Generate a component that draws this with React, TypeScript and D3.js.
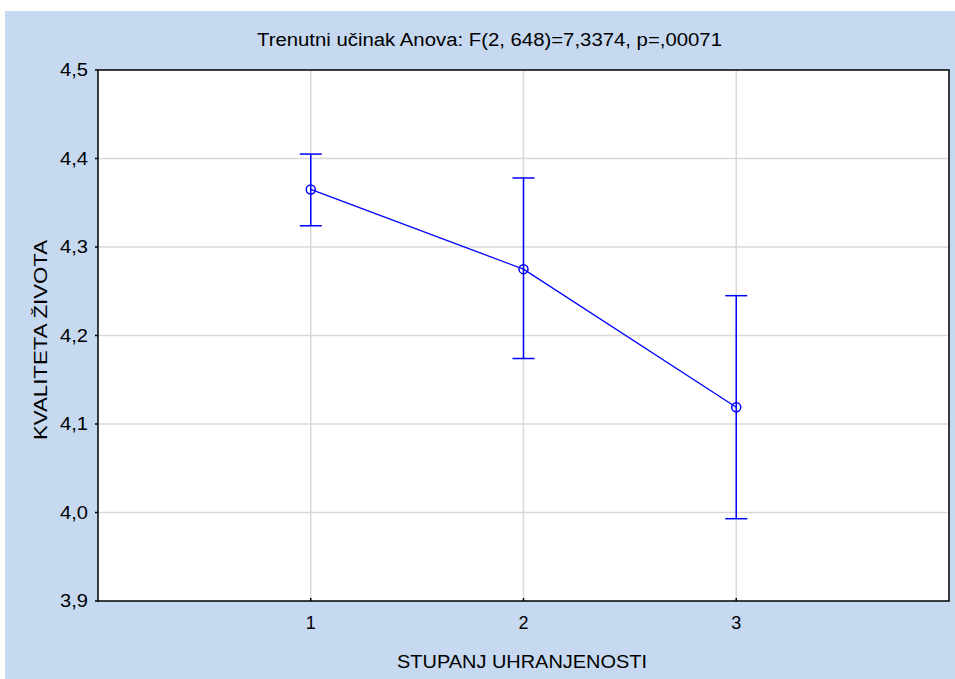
import * as d3 from "d3";

const groups = [1, 2, 3];
const means = [4.365, 4.275, 4.119];
const upper = [4.405, 4.378, 4.245];
const lower = [4.324, 4.174, 3.993];
const yTicks = [3.9, 4.0, 4.1, 4.2, 4.3, 4.4, 4.5];
const xTicks = [1, 2, 3];

const W = 955;
const H = 679;
const PLOT = { left: 98, right: 949, top: 70, bottom: 601 };
const FONT = "'Liberation Sans', Arial, sans-serif";
const BLUE = "#0000ff";

export default function App() {
  const x = d3.scaleLinear().domain([0, 4]).range([PLOT.left, PLOT.right]);
  const y = d3.scaleLinear().domain([3.9, 4.5]).range([PLOT.bottom, PLOT.top]);
  const fmt = (v: number) => v.toFixed(1).replace(".", ",");

  const line = d3
    .line<number>()
    .x((_, i) => x(groups[i]))
    .y((d) => y(d));

  return (
    <svg
      width={W}
      height={H}
      style={{ position: "absolute", left: 0, top: 0 }}
      fontFamily={FONT}
    >
      <rect x={5} y={11} width={W - 5} height={H - 11} fill="#c6d9f0" />
      <rect
        x={PLOT.left}
        y={PLOT.top}
        width={PLOT.right - PLOT.left}
        height={PLOT.bottom - PLOT.top}
        fill="#ffffff"
      />
      {/* grid */}
      {yTicks.slice(1, -1).map((t) => (
        <line
          key={"gy" + t}
          x1={PLOT.left}
          x2={PLOT.right}
          y1={y(t)}
          y2={y(t)}
          stroke="#d9d9d9"
          strokeWidth={1.5}
        />
      ))}
      {xTicks.map((t) => (
        <line
          key={"gx" + t}
          x1={x(t)}
          x2={x(t)}
          y1={PLOT.top}
          y2={PLOT.bottom}
          stroke="#d9d9d9"
          strokeWidth={1.5}
        />
      ))}
      {/* frame */}
      <rect
        x={PLOT.left}
        y={PLOT.top}
        width={PLOT.right - PLOT.left}
        height={PLOT.bottom - PLOT.top}
        fill="none"
        stroke="#000"
        strokeWidth={1.5}
      />
      {/* y ticks */}
      {yTicks.map((t) => (
        <g key={"ty" + t}>
          <line x1={PLOT.left - 3} x2={PLOT.left} y1={y(t)} y2={y(t)} stroke="#000" strokeWidth={1.5} />
          <text
            x={PLOT.left - 10}
            y={y(t)}
            dy="0.35em"
            textAnchor="end"
            fontSize={18}
            fill="#000"
            textLength={28}
            lengthAdjust="spacingAndGlyphs"
          >
            {fmt(t)}
          </text>
        </g>
      ))}
      {/* x ticks */}
      {xTicks.map((t) => (
        <g key={"tx" + t}>
          <line x1={x(t)} x2={x(t)} y1={PLOT.bottom - 3} y2={PLOT.bottom} stroke="#000" strokeWidth={1.5} />
          <text x={x(t)} y={PLOT.bottom + 28} textAnchor="middle" fontSize={18} fill="#000">
            {t}
          </text>
        </g>
      ))}
      {/* error bars */}
      {groups.map((g, i) => (
        <g key={"eb" + g} stroke={BLUE} strokeWidth={1.5}>
          <line x1={x(g)} x2={x(g)} y1={y(upper[i])} y2={y(lower[i])} />
          <line x1={x(g) - 11} x2={x(g) + 11} y1={y(upper[i])} y2={y(upper[i])} />
          <line x1={x(g) - 11} x2={x(g) + 11} y1={y(lower[i])} y2={y(lower[i])} />
        </g>
      ))}
      <path d={line(means) as string} fill="none" stroke={BLUE} strokeWidth={1.3} />
      {groups.map((g, i) => (
        <circle key={"pt" + g} cx={x(g)} cy={y(means[i])} r={4.5} fill="none" stroke={BLUE} strokeWidth={1.5} />
      ))}
      {/* titles */}
      <text
        x={257}
        y={46}
        fontSize={18}
        fill="#000"
        textLength={465}
        lengthAdjust="spacingAndGlyphs"
      >
        Trenutni učinak Anova: F(2, 648)=7,3374, p=,00071
      </text>
      <text
        transform={`translate(47, 440) rotate(-90)`}
        fontSize={18}
        fill="#000"
        textLength={200}
        lengthAdjust="spacingAndGlyphs"
      >
        KVALITETA ŽIVOTA
      </text>
      <text
        x={397}
        y={668}
        fontSize={18}
        fill="#000"
        textLength={250}
        lengthAdjust="spacingAndGlyphs"
      >
        STUPANJ UHRANJENOSTI
      </text>
    </svg>
  );
}
